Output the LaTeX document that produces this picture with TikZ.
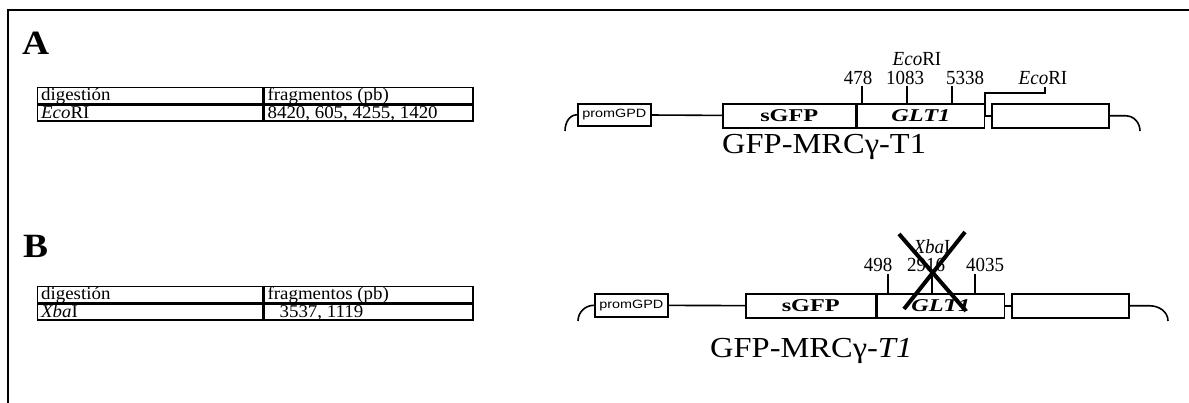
\documentclass[tikz,border=0pt]{standalone}
\usepackage{fontspec}
\setmainfont{Liberation Serif}
\newfontfamily\tabfont[FakeStretch=1.05]{Liberation Serif}
\newfontfamily\boxfont[FakeStretch=1.35]{Liberation Serif}
\newfontfamily\numfont[FakeStretch=0.95]{Liberation Serif}
\newfontfamily\panelfont[FakeStretch=1.1]{Liberation Serif}
\newfontfamily\titlefont[FakeStretch=1.12]{Liberation Serif}
\newfontfamily\promfont[FakeStretch=1.2]{Liberation Sans}
\usetikzlibrary{positioning}

\begin{document}
\begin{tikzpicture}[
    x=1pt, y=-1pt,
    part/.style={draw, line width=1.6pt, inner sep=0pt, minimum height=24pt},
    wire/.style={line width=1.6pt},
    cell/.style={draw, line width=1.4pt, anchor=north west, minimum height=16pt, inner sep=0pt},
    celltext/.style={anchor=base west, inner sep=0pt, font=\tabfont\fontsize{18}{18}\selectfont},
    num/.style={font=\numfont\fontsize{20}{20}\selectfont, inner sep=0pt, anchor=base},
    panel/.style={font=\panelfont\bfseries\fontsize{34}{34}\selectfont, anchor=base west, inner sep=0pt},
    title/.style={font=\titlefont\fontsize{29}{29}\selectfont, anchor=base west, inner sep=0pt},
    cross/.style={line width=4pt}
  ]
  \useasboundingbox (0,0) rectangle (1189,403);
  \draw[line width=1.6pt] (8,403) -- (8,10) -- (1189,10);

  \node[panel] (labA) at (22,55) {A};
  \node[panel] (labB) at (23,258) {B};

  % tablas de digestion
  \foreach \p/\y/\enz/\frag in {
    A/87/{\textit{Eco}RI}/{8420, 605, 4255, 1420},
    B/286/{\textit{Xba}I}/{\hspace{12pt}3537, 1119}
  }{
    \node[cell, minimum width=225pt] (dig\p) at (37,\y) {};
    \node[cell, minimum width=209pt] (frag\p) at (dig\p.north east) {};
    \node[cell, minimum width=225pt] (enz\p) at (dig\p.south west) {};
    \node[cell, minimum width=209pt] (size\p) at (dig\p.south east) {};
    \node[celltext] (digt\p) at ([xshift=4pt, yshift=3.5pt]dig\p.south west) {digestión};
    \node[celltext] (fragt\p) at ([xshift=4pt, yshift=3.5pt]frag\p.south west) {fragmentos (pb)};
    \node[celltext] (enzt\p) at ([xshift=4pt, yshift=3.5pt]enz\p.south west) {\enz};
    \node[celltext] (sizet\p) at ([xshift=4pt, yshift=3.5pt]size\p.south west) {\frag};
  }

  % construccion A
  \node[part, minimum width=73pt, minimum height=22pt, anchor=north west,
    font=\promfont\fontsize{12}{12}\selectfont] (promA) at (577,103) {promGPD};
  \node[part, minimum width=133pt, anchor=north west,
    font=\boxfont\bfseries\fontsize{18}{18}\selectfont] (gfpA) at (722,103) {sGFP};
  \node[part, minimum width=127pt, right=0pt of gfpA,
    font=\boxfont\bfseries\itshape\fontsize{18}{18}\selectfont] (gltA) {GLT1};
  \node[part, minimum width=117pt, right=6pt of gltA] (endA) {};
  \coordinate (inA) at (565,131);
  \coordinate (outA) at (1140,131);
  \draw[wire] (inA) to[out=90, in=180] (promA.west);
  \draw[wire] (promA) -- (gfpA);
  \draw[wire] (gltA) -- (endA);
  \draw[wire] (endA.east) -- ++(16,0) to[out=0, in=90] (outA);
  \foreach \x/\lx/\n in {862/858/478, 907/905/1083, 952/965/5338}{
    \draw[wire] (\x,103) -- (\x,86);
    \node[num] at (\lx,85) {\n};
  }
  \node[num] (ecoA) at (917,66) {\textit{Eco}RI};
  \node[num] (eco2A) at (1043,85) {\textit{Eco}RI};
  \draw[wire] (985,115) -- (985,93) -| (1045,87);
  \node[title] (nameA) at (722,154) {GFP-MRCγ-T1};

  % construccion B
  \node[part, minimum width=73pt, minimum height=23pt, anchor=north west,
    font=\promfont\fontsize{12}{12}\selectfont] (promB) at (594,293) {promGPD};
  \node[part, minimum width=130pt, anchor=north west,
    font=\boxfont\bfseries\fontsize{18}{18}\selectfont] (gfpB) at (745,293) {sGFP};
  \node[part, minimum width=127pt, right=0pt of gfpB,
    font=\boxfont\bfseries\itshape\fontsize{18}{18}\selectfont] (gltB) {GLT1};
  \node[part, minimum width=117pt, right=6pt of gltB] (endB) {};
  \coordinate (inB) at (578,321);
  \coordinate (outB) at (1168,321);
  \draw[wire] (inB) to[out=90, in=180] (promB.west);
  \draw[wire] (promB) -- (gfpB);
  \draw[wire] (gltB) -- (endB);
  \draw[wire] (endB.east) -- ++(20,0) to[out=0, in=90] (outB);
  \foreach \x/\lx/\n in {888/878/498, 932/926/2916, 975/985/4035}{
    \draw[wire] (\x,293) -- (\x,274);
    \node[num] at (\lx,272) {\n};
  }
  \node[num] (xbaB) at (932,254) {\textit{Xba}I};
  \draw[cross] (899,234) -- (966,311);
  \draw[cross] (965,232) -- (904,309);
  \node[title] (nameB) at (710,358) {GFP-MRCγ-\textit{T1}};
\end{tikzpicture}
\end{document}
